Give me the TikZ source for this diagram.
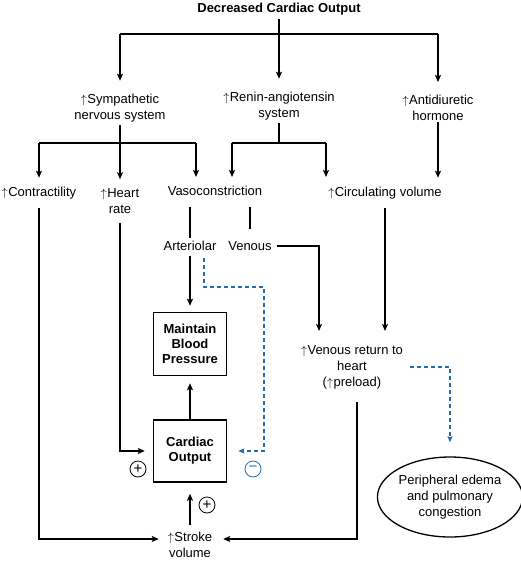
\documentclass[tikz,border=0pt]{standalone}
\usepackage{fontspec}
\setmainfont{Liberation Sans}
\usetikzlibrary{arrows.meta,shapes.geometric}
\definecolor{cblue}{RGB}{35,110,170}
\newcommand{\incr}{$\uparrow$\hspace{0.5pt}}

\begin{document}
\begin{tikzpicture}[x=1pt, y=-1pt,
    every node/.style={font=\fontsize{13}{16}\selectfont, align=center, inner sep=1pt},
    ln/.style={line width=1.3pt},
    ar/.style={ln, -{Stealth[length=7pt, width=6pt, inset=1.5pt]}},
    bx/.style={draw, line width=1.5pt, minimum width=73pt, minimum height=63pt,
               font=\fontsize{13}{15}\selectfont\bfseries},
    sgn/.style={circle, draw, line width=0.8pt, minimum size=16pt, inner sep=0pt,
                font=\fontsize{15}{15}\selectfont},
    dsh/.style={line width=1.3pt, draw=cblue, dash pattern=on 4pt off 3pt,
                -{Stealth[length=6pt, width=5pt, inset=1pt]}},
  ]
  \useasboundingbox (0,0) rectangle (520,561);
  % nodes
  \node[font=\fontsize{13}{14}\selectfont\bfseries] (dco) at (279,9) {Decreased Cardiac Output};
  \node (sns) at (120,108) {\incr Sympathetic\\nervous system};
  \node (ras) at (279,106) {\incr Renin-angiotensin\\system};
  \node (adh) at (438,108) {\incr Antidiuretic\\hormone};
  \node (contr) at (39,193) {\incr Contractility};
  \node (hr) at (120,201) {\incr Heart\\rate};
  \node (vaso) at (215,191) {Vasoconstriction};
  \node (circ) at (385,193) {\incr Circulating volume};
  \node (art) at (190,246) {Arteriolar};
  \node (ven) at (250,246) {Venous};
  \node[bx] (mbp) at (190,344) {Maintain\\Blood\\Pressure};
  \node[bx, minimum height=62pt] (co) at (190,451) {Cardiac\\Output};
  \node (vr) at (352,367) {\incr Venous return to\\heart\\(\incr preload)};
  \node[ellipse, draw, ln, minimum width=138pt, minimum height=80pt, inner sep=0pt]
    (edema) at (450,497) {Peripheral edema\\and pulmonary\\congestion};
  \node (sv) at (190,545) {\incr Stroke\\volume};
  \node[sgn] (p1) at (138,469) {+};
  \node[sgn] (p2) at (207,505) {+};
  \node[sgn, draw=cblue, text=cblue] (m1) at (253,469) {−};
  \coordinate (t1) at (279,34);
  \coordinate (t2) at (120,143);
  \coordinate (t3) at (279,143);
  \coordinate (vasoa) at (196,177);
  \coordinate (vasob) at (232,177);
  \coordinate (circa) at (326,177);
  \coordinate (dk) at (264,287);
  % first level
  \draw[ln, shorten <=3pt] (dco) -- (t1);
  \draw[ln] (t1 -| sns) -- (t1 -| adh);
  \foreach \n in {sns,ras,adh}
    \draw[ar, shorten >=12pt] (t1 -| \n) -- (\n);
  % second level
  \draw[ln, shorten <=2pt] (sns) -- (t2);
  \draw[ln] (t2 -| contr) -- (t2 -| vasoa);
  \draw[ar, shorten >=8pt] (t2 -| contr) -- (contr);
  \draw[ar, shorten >=8pt] (t2) -- (hr);
  \draw[ar] (t2 -| vasoa) -- (vasoa);
  \draw[ln, shorten <=2pt] (ras) -- (t3);
  \draw[ln] (t3 -| vasob) -- (t3 -| circa);
  \draw[ar] (t3 -| vasob) -- (vasob);
  \draw[ar] (t3 -| circa) -- (circa);
  \draw[ar, shorten >=8pt] (adh) -- (adh |- circ.north);
  % vasoconstriction
  \draw[ln, shorten <=10pt, shorten >=2pt] (vaso.south -| art) -- (art);
  \draw[ln, shorten <=10pt, shorten >=11pt] (vaso.south -| ven) -- (ven);
  \draw[ar, shorten <=4pt, shorten >=13pt] (ven) -| ([xshift=-33pt]vr.north);
  \draw[ar, shorten <=8pt, shorten >=13pt] (circ) -- (circ |- vr.north);
  \draw[ar, shorten <=4pt, shorten >=6pt] (art) -- (mbp);
  \draw[ar, shorten >=7pt] (co) -- (mbp);
  % stroke volume
  \draw[ar, shorten <=8pt, shorten >=8pt] (contr) |- ([yshift=6pt]sv.west);
  \draw[ar, shorten <=8pt, shorten >=8pt] (hr) |- (co.west);
  \draw[ar, shorten <=6pt, shorten >=11pt] (sv) -- (co);
  \draw[ar, shorten <=12pt, shorten >=10pt] ([xshift=5pt]vr.south) |- ([yshift=6pt]sv.east);
  % negative feedback
  \draw[dsh, shorten <=6pt, shorten >=11pt] ([xshift=14pt]art.south) |- (dk) |- (co.east);
  \draw[dsh, shorten <=6pt, shorten >=14pt] (vr.east) -| (edema);
\end{tikzpicture}
\end{document}
